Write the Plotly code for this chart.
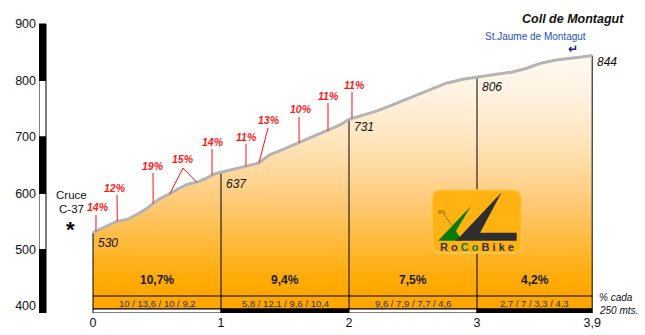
import plotly.graph_objects as go
import numpy as np

# ---------------- data ----------------
km_profile = [0, 0.09, 0.18, 0.27, 0.35, 0.42, 0.48, 0.52, 0.61, 0.66, 0.74, 0.82, 0.87,
              0.92, 0.96, 1.0, 1.08, 1.2, 1.29, 1.38, 1.49, 1.61, 1.70, 1.84, 1.93, 2.0,
              2.11, 2.22, 2.32, 2.42, 2.53, 2.63, 2.76, 2.89, 3.0, 3.15, 3.28, 3.39, 3.49,
              3.62, 3.75, 3.83, 3.9]
elev_profile = [530, 539.5, 549.5, 553.7, 563, 573, 584, 590, 600, 607, 616, 620, 625,
                630.5, 635, 637, 641, 648, 653, 668, 678, 689.5, 699, 711, 721, 731,
                739, 746, 755, 764, 774, 782, 795, 802, 806, 811, 815, 821.5, 830,
                836, 839, 842, 844]

km_marks = [0, 1, 2, 3, 3.9]
elev_marks = [530, 637, 731, 806, 844]

seg_start = [0, 1, 2, 3]
seg_end = [1, 2, 3, 3.9]
seg_avg = ["10,7%", "9,4%", "7,5%", "4,2%"]
seg_detail = ["10 / 13,6 / 10 / 9,2", "5,8 / 12,1 / 9,6 / 10,4",
              "9,6 / 7,9 / 7,7 / 4,6", "2,7 / 7 / 3,3 / 4,3"]

slope_pct = ["14%", "12%", "19%", "15%", "14%", "11%", "13%", "10%", "11%", "11%"]
slope_foot_km = [[0.023], [0.19], [0.47], [0.60, 0.81], [0.93], [1.195], [1.297],
                 [1.61], [1.836], [2.023]]

x_ticks = [0, 1, 2, 3, 3.9]
x_ticklabels = ["0", "1", "2", "3", "3,9"]
y_ticks = [400, 500, 600, 700, 800, 900]

title_text = "Coll de Montagut"
top_place = "St.Jaume de Montagut"
start_place = ["Cruce", "C-37"]

# ---------------- layout helpers (pixel -> data) ----------------
PX0, PXK = 93.0, 128.0      # km 0 at px 93, 128 px per km
PY400, PYM = 306.0, 0.564   # 400 m at py 306, 0.564 px per metre


def X(px):
    return (px - PX0) / PXK


def Y(py):
    return 400 + (PY400 - py) / PYM


BASE = Y(309)      # bottom of the profile fill
STRIP = Y(296)     # top of the small detail strip
BAR_BOT = Y(313)
FONT = "Liberation Sans, Arial, sans-serif"

fig = go.Figure()

# filled profile with vertical gradient
poly_x = [km_profile[0]] + km_profile + [km_profile[-1]]
poly_y = [BASE] + elev_profile + [BASE]
fig.add_trace(go.Scatter(
    x=poly_x, y=poly_y, mode="lines", fill="toself", line=dict(width=0),
    fillgradient=dict(type="vertical", start=BASE, stop=max(elev_profile),
                      colorscale=[[0, "#ffa500"], [0.11, "#ffaa05"], [0.23, "#ffb72e"],
                                  [0.43, "#ffcb7a"], [0.63, "#ffe2b6"], [0.82, "#fff0dc"],
                                  [1, "#fffaf4"]]),
    hoverinfo="skip"))

# vertical km lines
vx, vy = [], []
for k, e in zip(km_marks, elev_marks):
    vx += [k, k, None]
    vy += [e, BASE, None]
fig.add_trace(go.Scatter(x=vx, y=vy, mode="lines", line=dict(color="black", width=1),
                         hoverinfo="skip"))
# strip horizontal lines
fig.add_trace(go.Scatter(x=[km_marks[0], km_marks[-1], None, km_marks[0], km_marks[-1]],
                         y=[STRIP, STRIP, None, BASE, BASE], mode="lines",
                         line=dict(color="black", width=1), hoverinfo="skip"))

# profile line
fig.add_trace(go.Scatter(x=km_profile, y=elev_profile, mode="lines",
                         line=dict(color="#b4b4b4", width=3), hoverinfo="skip"))

# slope markers (stems)
slope_top_px = [(96, 215), (117, 195), (153, 173), (183, 168), (212, 149), (246, 144),
                (268, 128), (299, 117), (328, 103), (352, 92)]
slope_label_px = [(98, 207), (115, 188), (153, 166), (183, 159), (213, 142), (246, 137),
                  (269, 120), (301, 109), (328, 96), (354, 85)]
sx, sy = [], []
for feet, top in zip(slope_foot_km, slope_top_px):
    for f in feet:
        sx += [f, X(top[0]), None]
        sy += [float(np.interp(f, km_profile, elev_profile)), Y(top[1]), None]
fig.add_trace(go.Scatter(x=sx, y=sy, mode="lines", line=dict(color="#ff1010", width=1),
                         hoverinfo="skip"))

ann = []
for t, (lx, ly) in zip(slope_pct, slope_label_px):
    ann.append(dict(x=X(lx), y=Y(ly), text=t, showarrow=False, xanchor="center",
                    yanchor="middle",
                    font=dict(family=FONT, size=10.5, color="#ff1a1a", weight="bold",
                              style="italic")))

# elevation labels
for k, e in zip(km_marks, elev_marks):
    off_y = 10 if k in (0, 3) else (12 if k == 1 else 8)
    if k == km_marks[-1]:
        off_y = 6
    ann.append(dict(x=k + X(96) - X(93), y=e, yshift=-off_y, text=str(e), showarrow=False,
                    xanchor="left", yanchor="middle",
                    font=dict(family=FONT, size=12, color="#111", style="italic")))

# segment averages & details
for s0, s1, a, d in zip(seg_start, seg_end, seg_avg, seg_detail):
    ann.append(dict(x=(s0 + s1) / 2, y=Y(280), text=a, showarrow=False, xanchor="center",
                    yanchor="middle",
                    font=dict(family=FONT, size=12, color="#1a1a1a", weight="bold")))
    ann.append(dict(x=(s0 + s1) / 2, y=Y(303), text=d, showarrow=False, xanchor="center",
                    yanchor="middle", font=dict(family=FONT, size=9.5, color="#333")))

ann.append(dict(x=X(597), y=Y(297.5), text="% cada", showarrow=False, xanchor="left",
                yanchor="middle", font=dict(family=FONT, size=10, color="#111", style="italic")))
ann.append(dict(x=X(597), y=Y(310.5), text="250 mts.", showarrow=False, xanchor="left",
                yanchor="middle", font=dict(family=FONT, size=10, color="#111", style="italic")))

# title, places
ann.append(dict(x=X(626), y=Y(19), text=title_text, showarrow=False, xanchor="right",
                yanchor="middle",
                font=dict(family=FONT, size=12.5, color="#111", weight="bold", style="italic")))
ann.append(dict(x=X(535), y=Y(36), text=top_place, showarrow=False, xanchor="center",
                yanchor="middle", font=dict(family=FONT, size=10, color="#1e50c8")))
ann.append(dict(x=X(573), y=Y(49), text="↵", showarrow=False, xanchor="center",
                yanchor="middle",
                font=dict(family="DejaVu Sans", size=12, color="#1c1c8a", weight="bold")))
ann.append(dict(x=X(71.5), y=Y(195), text=start_place[0], showarrow=False, xanchor="center",
                yanchor="middle", font=dict(family=FONT, size=11.5, color="#111")))
ann.append(dict(x=X(71.5), y=Y(209), text=start_place[1], showarrow=False, xanchor="center",
                yanchor="middle", font=dict(family=FONT, size=11.5, color="#111")))
ann.append(dict(x=X(70), y=Y(229), text="*", showarrow=False, xanchor="center",
                yanchor="middle",
                font=dict(family=FONT, size=22, color="#000", weight="bold")))

# logo text
ann.append(dict(x=X(477), y=Y(246.5), showarrow=False, xanchor="center", yanchor="middle",
                text="<span style='color:#333'>R o </span><span style='color:#0a7a0a'>C o</span>"
                     "<span style='color:#333'> B i k e</span>",
                font=dict(family=FONT, size=11, weight="bold")))
ann.append(dict(x=X(442), y=Y(212), text="8%", showarrow=False, xanchor="center",
                yanchor="middle", font=dict(family=FONT, size=5, color="#6a5a00")))

shapes = []
# left elevation bar
for lo in range(400, 900, 100):
    black = (lo // 100) % 2 == 0
    shapes.append(dict(type="rect", x0=X(39), x1=X(46), y0=lo if lo > 400 else BAR_BOT,
                       y1=lo + 100, fillcolor="black" if black else "white",
                       line=dict(color="black", width=1), layer="above"))
# bottom km bar
for i, (s0, s1) in enumerate(zip(seg_start, seg_end)):
    shapes.append(dict(type="rect", x0=s0, x1=s1, y0=BAR_BOT, y1=BASE,
                       fillcolor="white" if i % 2 == 0 else "black",
                       line=dict(color="black", width=1), layer="above"))


# logo
def rrect(x0, y0, x1, y1, r):
    return (f"M {X(x0 + r)},{Y(y0)} L {X(x1 - r)},{Y(y0)} Q {X(x1)},{Y(y0)} {X(x1)},{Y(y0 + r)} "
            f"L {X(x1)},{Y(y1 - r)} Q {X(x1)},{Y(y1)} {X(x1 - r)},{Y(y1)} "
            f"L {X(x0 + r)},{Y(y1)} Q {X(x0)},{Y(y1)} {X(x0)},{Y(y1 - r)} "
            f"L {X(x0)},{Y(y0 + r)} Q {X(x0)},{Y(y0)} {X(x0 + r)},{Y(y0)} Z")


def poly(pts):
    return "M " + " L ".join(f"{X(a)},{Y(b)}" for a, b in pts) + " Z"


shapes.append(dict(type="path", path=rrect(432, 190, 521.5, 253, 9), fillcolor="#ffb212",
                   line=dict(color="#ffc856", width=1.5), layer="above"))
shapes.append(dict(type="path", path=poly([(438, 240.7), (471, 206), (456, 231), (462, 240.7)]),
                   fillcolor="#0a7a0a", line=dict(width=0), layer="above"))
shapes.append(dict(type="path", path=poly([(456, 240.7), (501.7, 192.3), (480, 232.7),
                                           (516.7, 232.7), (516.7, 240.7)]),
                   fillcolor="#2e2e2e", line=dict(width=0), layer="above"))
shapes.append(dict(type="line", x0=X(444), y0=Y(214), x1=X(451.5), y1=Y(225),
                   line=dict(color="#8a7a10", width=1), layer="above"))

fig.update_layout(
    width=645, height=335, autosize=False,
    margin=dict(l=39, r=0, t=0, b=22, pad=0),
    plot_bgcolor="white", paper_bgcolor="white",
    showlegend=False, hovermode=False,
    annotations=ann, shapes=shapes,
    xaxis=dict(range=[X(39), X(645)], tickvals=x_ticks, ticktext=x_ticklabels,
               showgrid=False, zeroline=False, showline=False, ticks="",
               tickfont=dict(family=FONT, size=12.5, color="#111")),
    yaxis=dict(range=[BAR_BOT, Y(0)], tickvals=y_ticks, showgrid=False, zeroline=False,
               showline=False, ticks="", ticklabelstandoff=2,
               tickfont=dict(family=FONT, size=12.5, color="#111")),
)

fig.write_html("out.html")
